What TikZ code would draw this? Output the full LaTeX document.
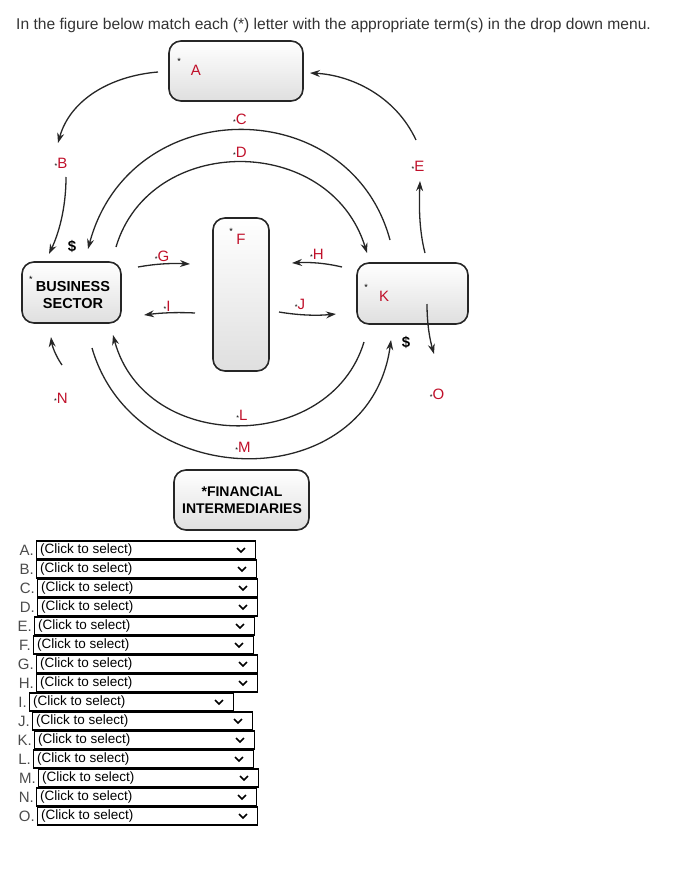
\documentclass[tikz,border=0pt]{standalone}
\usepackage{fontspec}
\setmainfont{Liberation Sans}
\usetikzlibrary{arrows.meta}
\definecolor{lred}{RGB}{192,16,42}
\begin{document}
\begin{tikzpicture}[x=1pt,y=-1pt,
  box/.style={draw=black!85,line width=1.6pt,rounded corners=12pt,top color=white,bottom color=gray!25},
  flow/.style={-{Stealth[length=10pt,width=7pt]},line width=1.3pt,black!85},
  lbl/.style={text=lred,font=\fontsize{15}{16}\selectfont,inner sep=0pt},
  dd/.style={draw=black,line width=1.2pt,minimum height=18pt,inner sep=0pt},
  ddtext/.style={font=\fontsize{13.5}{14}\selectfont,anchor=west,inner sep=0pt},
  ddlet/.style={font=\fontsize{15}{16}\selectfont,text=black!70,anchor=east,inner sep=0pt}]
\useasboundingbox (0,0) rectangle (685,875);
\node[anchor=west,font=\fontsize{15.6}{17}\selectfont,text=black!80,inner sep=0pt] (title) at (16,25) {In the figure below match each (*) letter with the appropriate term(s) in the drop down menu.};
% boxes
\path[box] (169,41) rectangle (303,101);
\path[box] (22,262) rectangle (121,323);
\node[font=\bfseries\fontsize{14.5}{17}\selectfont,align=center] (bus) at (73,295) {BUSINESS\\SECTOR};
\node[font=\small] (busstar) at (31,279) {*};
\path[box] (213,218) rectangle (269,371);
\path[box] (357,263) rectangle (468,324);
\path[box] (174,470) rectangle (309,530);
\node[font=\bfseries\fontsize{14}{17}\selectfont,align=center] (fin) at (242,500) {*FINANCIAL\\INTERMEDIARIES};
% labels
\newcommand\lab[4]{\node[lbl] (#1) at (#2,#3) {\textcolor{black}{\scriptsize *}#4};}
\node[font=\small] (astar) at (179,61) {*}; \node[lbl] (A) at (196,70) {A};
\lab{C}{240}{119}{C}
\lab{D}{240}{152}{D}
\lab{B}{61}{163}{B}
\lab{E}{418}{166}{E}
\node[font=\small] (fstar) at (231,231) {*}; \node[lbl] (F) at (241,239) {F};
\lab{G}{162}{256}{G}
\lab{H}{317}{254}{H}
\lab{I}{167}{306}{I}
\lab{J}{300}{304}{J}
\node[font=\small] (kstar) at (366,287) {*}; \node[lbl] (K) at (384,296) {K};
\lab{L}{242}{415}{L}
\lab{M}{243}{447}{M}
\lab{N}{61}{398}{N}
\lab{O}{437}{394}{O}
\node[font=\bfseries\fontsize{15}{16}\selectfont] (d1) at (72,246) {\$};
\node[font=\bfseries\fontsize{15}{16}\selectfont] (d2) at (406,342) {\$};
% arrows
\draw[flow] (158,72) .. controls (110,76) and (70,100) .. (58,143);
\draw[flow] (66,177) .. controls (66,210) and (58,235) .. (49,254);
\draw[flow] (390,240) .. controls (350,92) and (130,92) .. (88,249);
\draw[flow] (116,247) .. controls (150,133) and (330,133) .. (367,253);
\draw[flow] (138,267) .. controls (155,264) and (170,263) .. (190,264);
\draw[flow] (342,267) .. controls (325,263) and (310,262) .. (292,263);
\draw[flow] (195,313) .. controls (175,312) and (160,313) .. (144,315);
\draw[flow] (279,312) .. controls (297,315) and (315,316) .. (336,314);
\draw[flow] (425,253) .. controls (419,230) and (419,205) .. (420,181);
\draw[flow] (416,140) .. controls (395,95) and (350,75) .. (310,73);
\draw[flow] (427,304) .. controls (427,325) and (430,340) .. (434,354);
\draw[flow] (62,365) .. controls (55,355) and (52,345) .. (51,337);
\draw[flow] (364,342) .. controls (330,454) and (145,454) .. (113,335);
\draw[flow] (92,348) .. controls (135,496) and (370,496) .. (391,340);
% dropdowns
\newcommand\ddrow[4]{%
  \node[ddlet] (l#1) at (#2-2,#4) {#1.};
  \node[dd,minimum width=#3-#2,anchor=west] (b#1) at (#2,#4) {};
  \node[ddtext] (t#1) at (#2+4,#4) {(Click to select)};
  \draw[line width=1.6pt] (#3-18,#4-2) -- (#3-14,#4+2) -- (#3-10,#4-2);}
\ddrow{A}{36}{255}{550}
\ddrow{B}{36}{256}{569}
\ddrow{C}{37}{257}{588}
\ddrow{D}{37}{257}{607}
\ddrow{E}{34}{254}{626}
\ddrow{F}{33}{253}{645}
\ddrow{G}{36}{257}{664}
\ddrow{H}{36}{257}{683}
\ddrow{I}{29}{233}{702}
\ddrow{J}{32}{252}{721}
\ddrow{K}{34}{254}{740}
\ddrow{L}{33}{253}{759}
\ddrow{M}{38}{258}{778}
\ddrow{N}{36}{256}{797}
\ddrow{O}{37}{257}{816}
\end{tikzpicture}
\end{document}
